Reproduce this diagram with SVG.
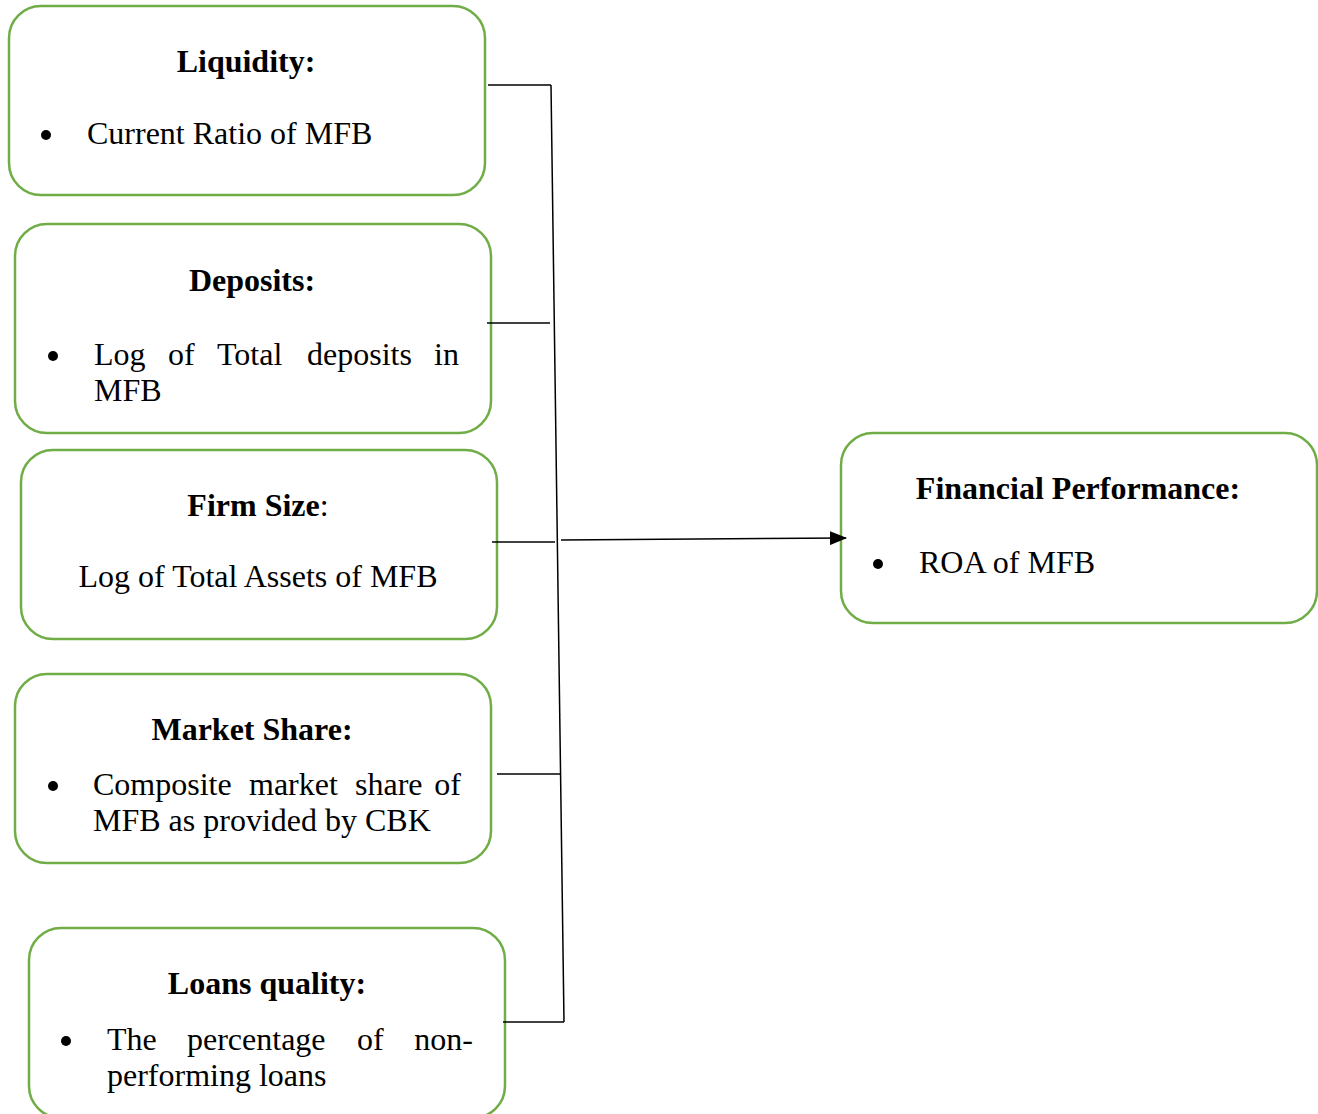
<svg xmlns="http://www.w3.org/2000/svg" width="1318" height="1114" viewBox="0 0 1318 1114">
<defs>
<style>
.box{fill:#fff;stroke:#70AD47;stroke-width:2.5}
text{font-family:"Liberation Serif","Times New Roman",serif;font-size:32px;fill:#000}
.b{font-weight:bold}
.ln{stroke:#000;stroke-width:1.5;fill:none}
</style>
<marker id="ah" markerWidth="17" markerHeight="14" refX="16" refY="7" orient="auto" markerUnits="userSpaceOnUse" viewBox="0 0 17 14">
<path d="M0,0 L17,7 L0,14 z" fill="#000"/>
</marker>
</defs>
<rect width="1318" height="1114" fill="#fff"/>
<g id="liquidity">
<rect class="box" x="9" y="6" width="476" height="189" rx="32"/>
<text class="b" x="246" y="72" text-anchor="middle">Liquidity:</text>
<circle cx="46" cy="135" r="5"/>
<text x="87" y="144">Current Ratio of MFB</text>
</g>
<g id="deposits">
<rect class="box" x="15" y="224" width="476" height="209" rx="32"/>
<text class="b" x="252" y="291" text-anchor="middle">Deposits:</text>
<circle cx="53" cy="356" r="5"/>
<text y="365"><tspan x="94">Log</tspan><tspan x="168">of</tspan><tspan x="217">Total</tspan><tspan x="307">deposits</tspan><tspan x="459" text-anchor="end">in</tspan></text>
<text x="94" y="401">MFB</text>
</g>
<g id="firmsize">
<rect class="box" x="21" y="450" width="476" height="189" rx="32"/>
<text x="258" y="516" text-anchor="middle"><tspan class="b">Firm Size</tspan>:</text>
<text x="258" y="587" text-anchor="middle">Log of Total Assets of MFB</text>
</g>
<g id="marketshare">
<rect class="box" x="15" y="674" width="476" height="189" rx="32"/>
<text class="b" x="252" y="740" text-anchor="middle">Market Share:</text>
<circle cx="53" cy="786" r="5"/>
<text y="795"><tspan x="93">Composite</tspan><tspan x="249">market</tspan><tspan x="355">share</tspan><tspan x="461" text-anchor="end">of</tspan></text>
<text x="93" y="831">MFB as provided by CBK</text>
</g>
<g id="loansquality">
<rect class="box" x="29" y="928" width="476" height="190" rx="32"/>
<text class="b" x="267" y="994" text-anchor="middle">Loans quality:</text>
<circle cx="66" cy="1041" r="5"/>
<text y="1050"><tspan x="107">The</tspan><tspan x="187">percentage</tspan><tspan x="357">of</tspan><tspan x="473" text-anchor="end">non-</tspan></text>
<text x="107" y="1086">performing loans</text>
</g>
<g id="financialperformance">
<rect class="box" x="841" y="433" width="476" height="190" rx="32"/>
<text class="b" x="1078" y="499" text-anchor="middle">Financial Performance:</text>
<circle cx="878" cy="564" r="5"/>
<text x="919" y="573">ROA of MFB</text>
</g>
<g id="connectors">
<line class="ln" x1="488" y1="85" x2="551" y2="85"/>
<line class="ln" x1="551" y1="85" x2="564" y2="1022"/>
<line class="ln" x1="487" y1="323" x2="550" y2="323"/>
<line class="ln" x1="492" y1="542" x2="555" y2="542"/>
<line class="ln" x1="497" y1="774" x2="560" y2="774"/>
<line class="ln" x1="503" y1="1022" x2="564" y2="1022"/>
<line class="ln" x1="561" y1="540" x2="846" y2="538" marker-end="url(#ah)"/>
</g>
</svg>
